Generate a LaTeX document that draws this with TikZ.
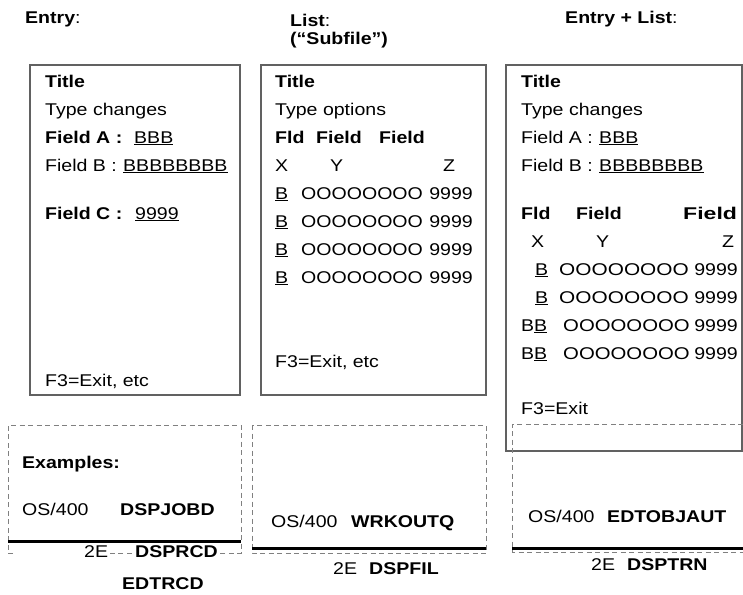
\documentclass[tikz,border=0pt]{standalone}
\usepackage{graphicx}
\usepackage{fontspec}
\setmainfont[FakeStretch=1.15]{Liberation Sans}
\begin{document}
\begin{tikzpicture}[x=1pt, y=-1pt,
  txt/.style={anchor=base west, inner sep=0pt, font=\fontsize{17}{20}\selectfont},
  btxt/.style={txt, font=\fontsize{17}{20}\selectfont\bfseries},
  rtxt/.style={txt, anchor=base east},
  screen/.style={draw=black!62, line width=1.2pt},
  dashbox/.style={draw=black!50, line width=0.9pt, dash pattern=on 5pt off 3.5pt},
  rule/.style={draw=black, line width=3pt},
  mask/.style={fill=white, inner sep=1pt}]
\useasboundingbox (0,0) rectangle (743,594);

% column headings
\node[btxt] (hEntry) at (25,24) {Entry\mdseries:};
\node[btxt] (hList)  at (290,27) {List\mdseries:};
\node[btxt] (hSub)   at (290,45) {(“Subfile”)};
\node[btxt] (hBoth)  at (565,24) {Entry + List\mdseries:};

% three screen frames
\draw[screen] (30,65) rectangle (240,395);
\draw[screen] (261,65) rectangle (486,395);
\draw[screen] (506,65) rectangle (742,451);

% --- entry screen
\node[btxt] (e1title) at (45,87)  {Title};
\node[txt]  (e1type)  at (45,115) {Type changes};
\node[btxt] (e1fa)    at (45,143) {Field A :};
\node[txt]  (e1fav)   at (134,143) {\underline{BBB}};
\node[txt]  (e1fb)    at (45,171) {Field B :};
\node[txt]  (e1fbv)   at (123,171) {\underline{BBBBBBBB}};
\node[btxt] (e1fc)    at (45,219) {Field C :};
\node[txt]  (e1fcv)   at (135,219) {\underline{9999}};
\node[txt]  (e1f3)    at (45,386) {F3=Exit, etc};

% --- list screen
\node[btxt] (l2title) at (275,87)  {Title};
\node[txt]  (l2type)  at (275,115) {Type options};
\node[btxt] (l2h1)    at (275,143) {Fld};
\node[btxt] (l2h2)    at (316,143) {Field};
\node[btxt] (l2h3)    at (379,143) {Field};
\node[txt]  (l2x)     at (275,171) {X};
\node[txt]  (l2y)     at (330,171) {Y};
\node[txt]  (l2z)     at (443,171) {Z};
\foreach \r/\yy in {1/199, 2/227, 3/255, 4/283} {
  \node[txt]  (l2b\r) at (275,\yy) {\underline{B}};
  \node[txt]  (l2o\r) at (301,\yy) {OOOOOOOO};
  \node[rtxt] (l2n\r) at (473,\yy) {9999};
}
\node[txt]  (l2f3)    at (275,367) {F3=Exit, etc};

% --- entry + list screen
\node[btxt] (b3title) at (521,87)  {Title};
\node[txt]  (b3type)  at (521,115) {Type changes};
\node[txt]  (b3fa)    at (521,143) {Field A :};
\node[txt]  (b3fav)   at (599,143) {\underline{BBB}};
\node[txt]  (b3fb)    at (521,171) {Field B :};
\node[txt]  (b3fbv)   at (599,171) {\underline{BBBBBBBB}};
\node[btxt] (b3h1)    at (521,219) {Fld};
\node[btxt] (b3h2)    at (576,219) {Field};
\node[btxt] (b3h3)    at (683,219) {\scalebox{1.18}[1]{Field}};
\node[txt]  (b3x)     at (531,247) {X};
\node[txt]  (b3y)     at (596,247) {Y};
\node[txt]  (b3z)     at (722,247) {Z};
\foreach \r/\yy in {1/275, 2/303} {
  \node[txt]  (b3b\r) at (535,\yy) {\underline{B}};
  \node[txt]  (b3o\r) at (559,\yy) {\scalebox{1.065}[1]{OOOOOOOO}};
  \node[rtxt] (b3n\r) at (738,\yy) {9999};
}
\foreach \r/\yy in {3/331, 4/359} {
  \node[txt]  (b3b\r) at (521,\yy) {B\underline{B}};
  \node[txt]  (b3o\r) at (563,\yy) {\scalebox{1.04}[1]{OOOOOOOO}};
  \node[rtxt] (b3n\r) at (738,\yy) {9999};
}
\node[txt]  (b3f3)    at (521,414) {F3=Exit};

% --- example panels
% entry examples
\draw[dashbox] (13,553) -- (8,553) -- (8,425) -- (241,425) -- (241,553) -- (83,553);
\draw[rule] (8,541) -- (241,541);
\node[btxt] (exhead) at (22,468) {Examples:};
\node[txt]  (exos1)  at (22,515) {OS/400};
\node[btxt] (exc1)   at (120,515) {DSPJOBD};
\node[txt, mask]  (ex2e1) at (83,557) {2E};
\node[btxt, mask] (exd1)  at (134,557) {DSPRCD};
\node[btxt] (exe1)   at (122,589) {EDTRCD};

% list examples
\draw[dashbox] (252,425) rectangle (486,553);
\draw[rule] (252,548) -- (486,548);
\node[txt]  (exos2)  at (271,527) {OS/400};
\node[btxt] (exc2)   at (351,527) {WRKOUTQ};
\node[txt]  (ex2e2)  at (333,574) {2E};
\node[btxt] (exd2)   at (369,574) {DSPFIL};

% entry + list examples
\draw[dashbox] (743,424) -- (512,424) -- (512,552) -- (743,552);
\draw[rule] (512,548) -- (743,548);
\node[txt]  (exos3)  at (528,522) {OS/400};
\node[btxt] (exc3)   at (607,522) {EDTOBJAUT};
\node[txt]  (ex2e3)  at (591,570) {2E};
\node[btxt] (exd3)   at (627,570) {DSPTRN};
\end{tikzpicture}
\end{document}
